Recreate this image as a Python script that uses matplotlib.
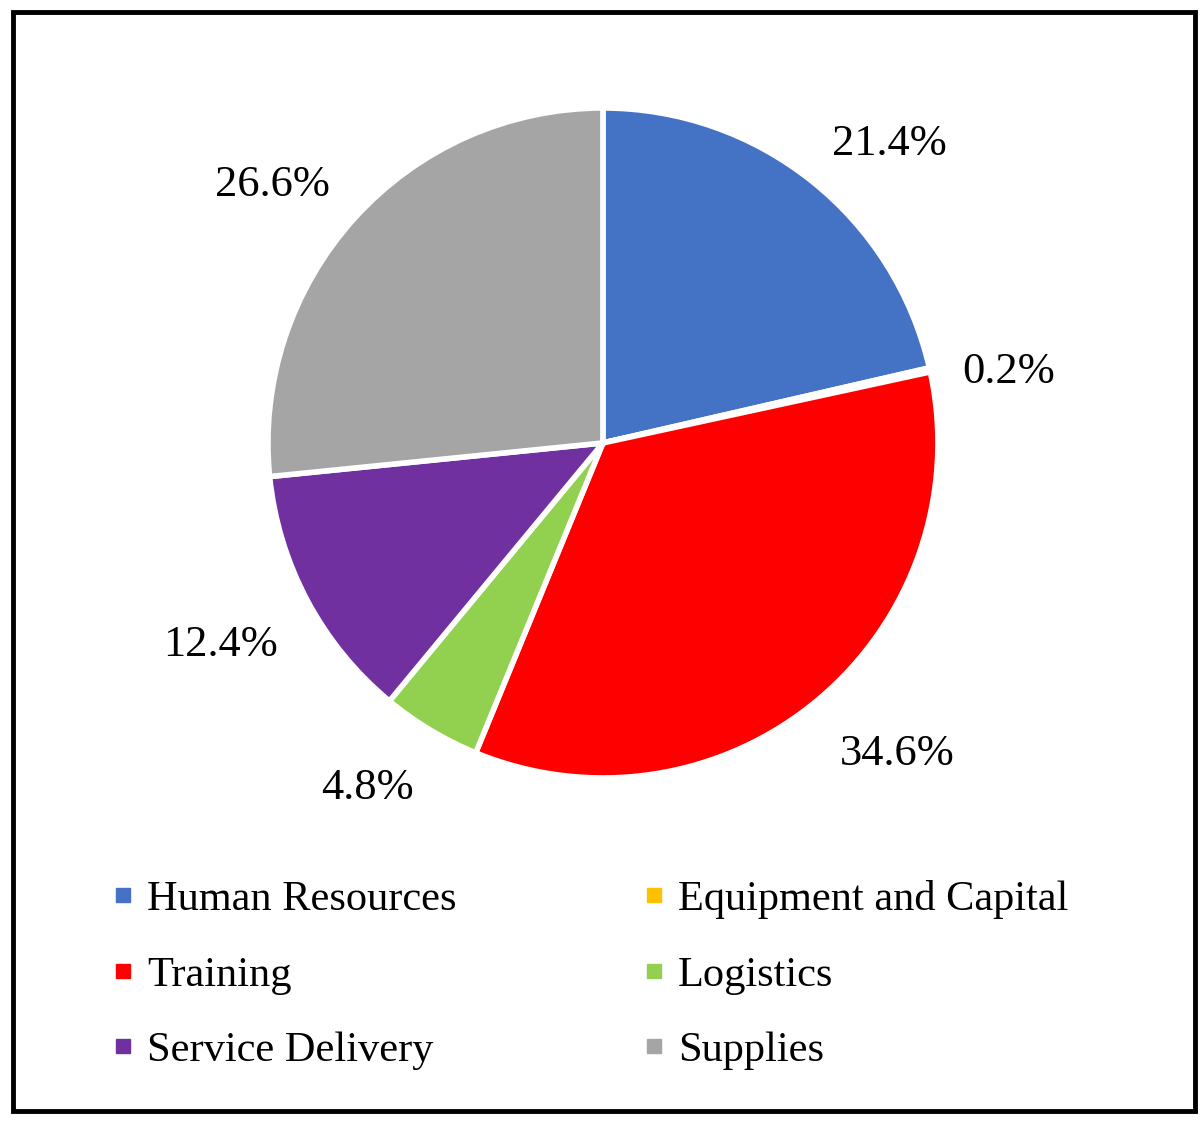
import numpy as np
import matplotlib.pyplot as plt
from matplotlib.lines import Line2D
from matplotlib.patches import Rectangle

plt.rcParams['font.family'] = ['Liberation Serif', 'DejaVu Serif']

categories = ['Human Resources', 'Equipment and Capital', 'Training',
              'Logistics', 'Service Delivery', 'Supplies']
shares = [21.4, 0.2, 34.6, 4.8, 12.4, 26.6]
colors = ['#4472C4', '#FFC000', '#FF0000', '#92D050', '#7030A0', '#A5A5A5']

fig = plt.figure(figsize=(12, 11.21), dpi=100)
ax = fig.add_axes([0.2233, 0.306, 0.5583, 0.5977])

wedges, texts = ax.pie(
    shares, colors=colors, startangle=90, counterclock=False,
    wedgeprops=dict(edgecolor='white', linewidth=4))
ax.set_xlim(-1, 1)
ax.set_ylim(-1, 1)
ax.set_aspect('equal')

# percentage labels placed just outside each wedge (Excel "outside end" style)
for w, v in zip(wedges, shares):
    ang = np.deg2rad((w.theta1 + w.theta2) / 2)
    c, s = np.cos(ang), np.sin(ang)
    ha = 'left' if c > 0 else 'right'
    va = 'bottom' if s > 0.3 else ('top' if s < -0.3 else 'center')
    ax.text(1.10 * c, 1.10 * s - 0.027, f'{v:.1f}%', ha=ha, va=va, fontsize=32)

# legend in row order (2 columns)
order = [0, 2, 4, 1, 3, 5]
handles = [Line2D([], [], marker='s', linestyle='none', markersize=10.5,
                  color=colors[i], label=categories[i]) for i in order]
fig.legend(handles=handles, loc='upper left', bbox_to_anchor=(0.062, 0.249),
           ncol=2, frameon=False, fontsize=30.5, handlelength=0.5,
           handletextpad=0.32, columnspacing=4.4, labelspacing=0.87)

fig.patches.append(Rectangle((0.0105, 0.009), 0.985, 0.9805,
                             transform=fig.transFigure, fill=False,
                             edgecolor='black', linewidth=3.5))

fig.savefig('out.png', dpi=100)
